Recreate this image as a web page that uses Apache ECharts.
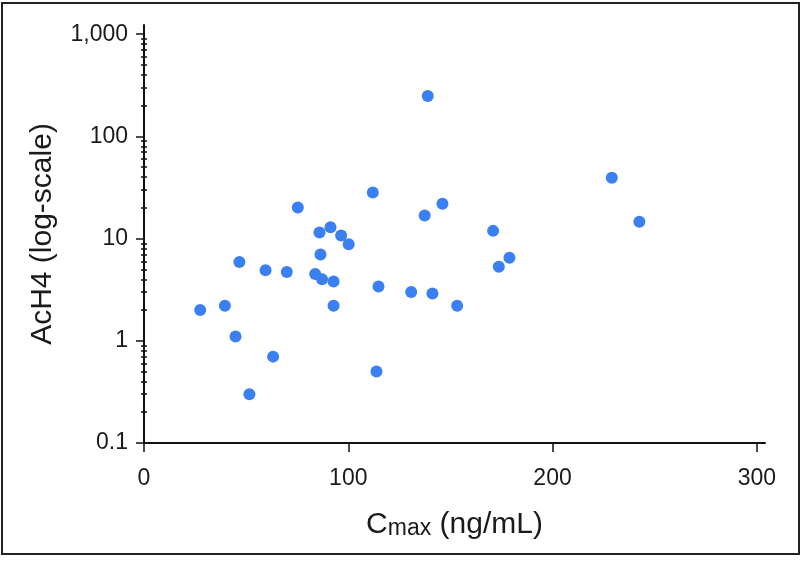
<!DOCTYPE html>
<html>
<head>
<meta charset="utf-8">
<script src="https://cdn.jsdelivr.net/npm/echarts@6/dist/echarts.min.js"></script>
<style>html,body{margin:0;padding:0;background:#fff;}#c{width:801px;height:581px;}</style>
</head>
<body>
<div id="c"></div>
<script>
// Cmax (ng/mL)
const cmax = [27.5, 39.6, 44.8, 46.7, 51.6, 59.5, 63.2, 69.9, 75.3, 83.8, 85.9, 86.4, 87.2, 91.3, 92.8, 92.8,
              96.5, 100.2, 112.0, 113.8, 114.8, 130.8, 137.4, 138.9, 141.2, 146.1, 153.3, 170.9, 173.7, 178.9, 229.0, 242.5];
// AcH4 values
const ach4 = [2.0, 2.2, 1.1, 5.9, 0.3, 4.9, 0.7, 4.7, 20.2, 4.5, 11.5, 7.0, 4.0, 12.9, 3.8, 2.2,
              10.7, 8.8, 28.3, 0.5, 3.4, 3.0, 16.8, 249, 2.9, 21.9, 2.2, 11.9, 5.3, 6.5, 39.4, 14.6];
const xTicks = [0, 100, 200, 300];
const yTicks = [0.1, 1, 10, 100, 1000];
const yMinorTicks = [0.2,0.3,0.4,0.5,0.6,0.7,0.8,0.9, 2,3,4,5,6,7,8,9, 20,30,40,50,60,70,80,90, 200,300,400,500,600,700,800,900];

const points = cmax.map((x, i) => [x, ach4[i]]);
const fmt = v => {
  if (v >= 1000) return String(v).replace(/\B(?=(\d{3})+(?!\d))/g, ',');
  return String(+v.toPrecision(6));
};
const tickFont = {fontFamily: 'Liberation Sans', fontSize: 23, color: '#1a1a1a'};
const lineStyle = {color: '#111', width: 2};
const yBase = {type: 'log', min: 0.1, max: 1230, logBase: 10, splitLine: {show: false}, position: 'left'};

const chart = echarts.init(document.getElementById('c'), null, {renderer: 'canvas'});
chart.setOption({
  animation: false,
  backgroundColor: '#fff',
  grid: {left: 144, right: 36, top: 25, bottom: 138, containLabel: false},
  graphic: [{
    type: 'rect', shape: {x: 2, y: 3, width: 797, height: 551},
    style: {fill: 'none', stroke: '#222', lineWidth: 2}, z: 100
  }],
  xAxis: {
    type: 'value', min: 0, max: 304,
    axisLine: {show: true, lineStyle: lineStyle},
    axisTick: {show: true, length: 9, lineStyle: {color: '#111', width: 1.5}, customValues: xTicks},
    axisLabel: Object.assign({margin: 24, customValues: xTicks, formatter: v => fmt(v)}, tickFont),
    splitLine: {show: false},
    name: '{c|C}{s|max}{n| (ng/mL)}',
    nameLocation: 'middle', nameGap: 67,
    nameTextStyle: {
      rich: {
        c: {fontFamily: 'Liberation Sans', fontSize: 30, lineHeight: 30, color: '#1a1a1a', verticalAlign: 'bottom'},
        s: {fontFamily: 'Liberation Sans', fontSize: 23, lineHeight: 9, color: '#1a1a1a', verticalAlign: 'bottom'},
        n: {fontFamily: 'Liberation Sans', fontSize: 30, lineHeight: 30, color: '#1a1a1a', verticalAlign: 'bottom'}
      }
    }
  },
  yAxis: [
    Object.assign({}, yBase, {
      axisLine: {show: true, lineStyle: lineStyle},
      axisTick: {show: true, length: 8, lineStyle: {color: '#111', width: 1.5}, customValues: yTicks},
      axisLabel: Object.assign({margin: 16, customValues: yTicks, formatter: v => fmt(v)}, tickFont),
      name: 'AcH4 (log-scale)', nameLocation: 'middle', nameGap: 86,
      nameTextStyle: {fontFamily: 'Liberation Sans', fontSize: 30, color: '#1a1a1a'}
    }),
    Object.assign({}, yBase, {
      axisLine: {show: false},
      axisTick: {show: true, length: 3, lineStyle: {color: '#111', width: 1.5}, customValues: yMinorTicks},
      axisLabel: {show: false}
    }),
    Object.assign({}, yBase, {
      axisLine: {show: false},
      axisTick: {show: true, inside: true, length: 3, lineStyle: {color: '#111', width: 1.5}, customValues: yMinorTicks},
      axisLabel: {show: false}
    })
  ],
  series: [{
    type: 'scatter', yAxisIndex: 0, data: points,
    symbol: 'circle', symbolSize: 12,
    itemStyle: {color: '#3a80f2', opacity: 1}
  }]
});
</script>
</body>
</html>
